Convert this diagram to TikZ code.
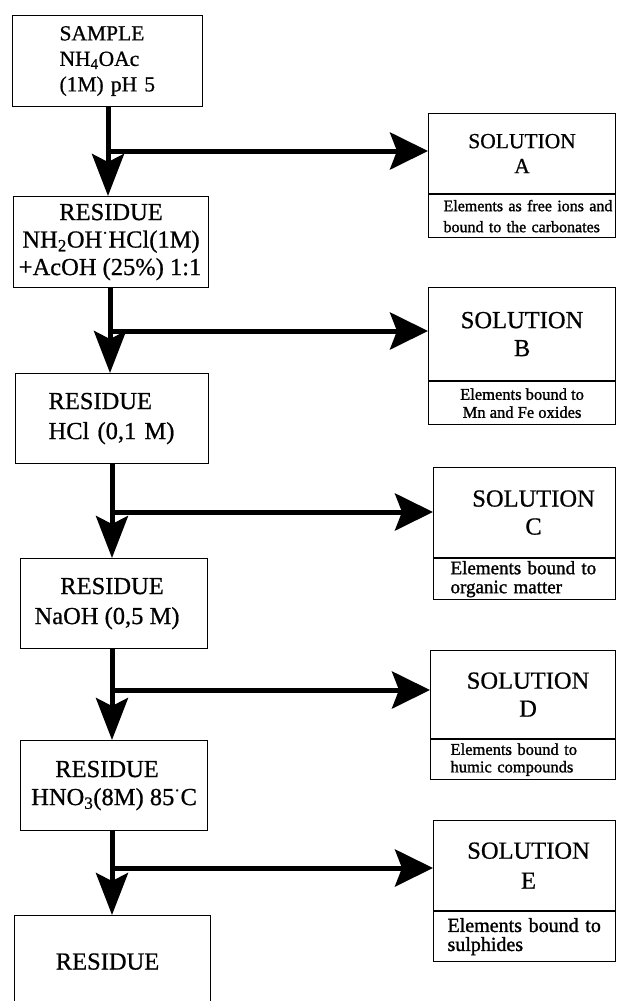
\documentclass[tikz,border=0pt]{standalone}
\usepackage{fontspec}
\setmainfont[FakeBold=0.7]{Liberation Serif}
\newfontfamily\smallserif[FakeBold=1.3]{Liberation Serif}
\usetikzlibrary{arrows.meta}
\begin{document}
\begin{tikzpicture}[x=1pt,y=-1pt,
  box/.style={draw, line width=1.1pt, inner sep=0pt, anchor=north west},
  big/.style={font=\fontsize{24.5}{28.5}\selectfont},
  soltop/.style={draw, line width=1.1pt, inner sep=0pt, anchor=north west, align=center},
  solbot/.style={draw, line width=1.1pt, inner sep=0pt, anchor=north west},
  flowdown/.style={line width=5pt, -{Stealth[length=42pt,width=32pt,inset=8pt]}},
  flowright/.style={line width=5pt, -{Stealth[length=38pt,width=37pt,inset=7pt]}}]
\clip (0,0) rectangle (618,1001);
\fill[white] (0,0) rectangle (618,1001);

% left column
\node[box, minimum width=190pt, minimum height=91pt, text width=96pt, align=left,
      font=\fontsize{21.5}{25.5}\selectfont] (b1) at (12,15)
  {SAMPLE\\NH\textsubscript{4}OAc\\(1M) pH 5};
\node[box, minimum width=195pt, minimum height=91pt, align=center,
      font=\fontsize{24.5}{27.5}\selectfont] (b2) at (13,196)
  {RESIDUE\\NH\textsubscript{2}OH\textsuperscript{·}HCl(1M)\\+AcOH (25\%) 1:1\hspace*{2pt}};
\node[box, minimum width=193pt, minimum height=90pt, text width=127pt, align=left,
      font=\fontsize{24.5}{30}\selectfont] (b3) at (15,373)
  {RESIDUE\\HCl (0,1 M)};
\node[box, minimum width=187pt, minimum height=90pt, align=center,
      font=\fontsize{24.5}{30}\selectfont] (b4) at (20,558)
  {RESIDUE\hspace*{4pt}\\NaOH (0,5 M)\hspace*{14pt}};
\node[box, minimum width=187pt, minimum height=90pt, align=center,
      font=\fontsize{24.5}{28}\selectfont] (b5) at (20,740)
  {RESIDUE\hspace*{14pt}\\HNO\textsubscript{3}(8M) 85\textsuperscript{·}C};
\node[box, minimum width=196pt, minimum height=92pt, align=center, big] (b6) at (14,915)
  {RESIDUE\hspace*{10pt}};

% solution boxes
\node[soltop, minimum width=187pt, minimum height=80pt, font=\fontsize{21.5}{25}\selectfont] (sA) at (428,113)
  {SOLUTION\\A};
\node[solbot, minimum width=187pt, minimum height=43pt, text width=157pt, align=left,
      font=\smallserif\fontsize{16}{21}\selectfont] (dA) at (sA.south west)
  {\mbox{Elements as free ions and}\\\mbox{bound to the carbonates}};

\node[soltop, minimum width=187pt, minimum height=93pt, font=\fontsize{24.5}{28}\selectfont] (sB) at (428,287)
  {SOLUTION\\B};
\node[solbot, minimum width=187pt, minimum height=43pt, align=center,
      font=\smallserif\fontsize{16.5}{18}\selectfont] (dB) at (sB.south west)
  {Elements bound to\\Mn and Fe oxides};

\node[soltop, minimum width=182pt, minimum height=90pt, font=\fontsize{24.5}{28}\selectfont] (sC) at (433,467)
  {\hspace*{18pt}SOLUTION\\\hspace*{18pt}C};
\node[solbot, minimum width=182pt, minimum height=41pt, text width=148pt, align=left,
      font=\smallserif\fontsize{19}{19}\selectfont] (dC) at (sC.south west)
  {\mbox{Elements bound to}\\\mbox{organic matter}};

\node[soltop, minimum width=185pt, minimum height=88pt, font=\fontsize{24.5}{28}\selectfont] (sD) at (430,650)
  {\hspace*{10pt}SOLUTION\\\hspace*{10pt}D};
\node[solbot, minimum width=185pt, minimum height=40pt, text width=145pt, align=left,
      font=\smallserif\fontsize{16.5}{17.5}\selectfont] (dD) at (sD.south west)
  {\mbox{Elements bound to}\\\mbox{humic compounds}};

\node[soltop, minimum width=182pt, minimum height=90pt, font=\fontsize{24.5}{30}\selectfont] (sE) at (433,820)
  {\hspace*{8pt}SOLUTION\\\hspace*{8pt}E};
\node[solbot, minimum width=182pt, minimum height=50pt, text width=154pt, align=left,
      font=\smallserif\fontsize{20}{19}\selectfont] (dE) at (sE.south west)
  {\mbox{Elements bound to}\\\mbox{sulphides}};

% junctions
\coordinate (jA) at (108,151);
\coordinate (jB) at (110,331);
\coordinate (jC) at (112,512);
\coordinate (jD) at (112,690);
\coordinate (jE) at (112,868);

% connectors
\draw[flowdown] (b1.south -| jA) -- (b2.north -| jA);
\draw[flowright] (jA) -- (jA -| sA.west);
\draw[flowdown] (b2.south -| jB) -- (b3.north -| jB);
\draw[flowright] (jB) -- (jB -| sB.west);
\draw[flowdown] (b3.south -| jC) -- (b4.north -| jC);
\draw[flowright] (jC) -- (jC -| sC.west);
\draw[flowdown] (b4.south -| jD) -- (b5.north -| jD);
\draw[flowright] (jD) -- (jD -| sD.west);
\draw[flowdown] (b5.south -| jE) -- (b6.north -| jE);
\draw[flowright] (jE) -- (jE -| sE.west);
\end{tikzpicture}
\end{document}
